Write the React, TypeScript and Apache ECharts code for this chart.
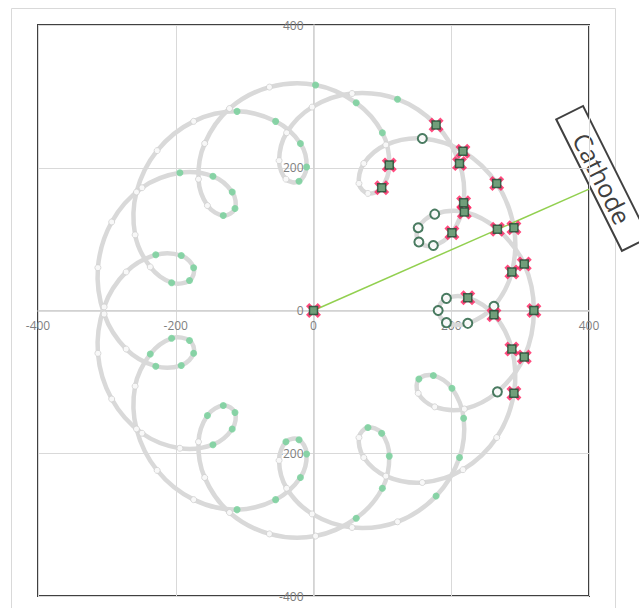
import React, { useEffect, useRef } from "react";
import * as echarts from "echarts";

// Sampled points of the electron path (data units), in drawing order
const curveX = [
  181, 193, 224, 262, 288, 291, 266, 217, 158, 105,
  73, 66, 79, 99, 110, 100, 62, 3, -64, -122,
  -158, -167, -154, -131, -114, -118, -146, -194, -249, -293,
  -313, -304, -272, -229, -192, -174, -180, -206, -237, -259,
  -257, -227, -174, -111, -55, -19, -10, -21, -40, -50,
  -39, -2, 56, 122, 178, 212, 218, 201, 174, 153,
  152, 176, 219, 267, 306, 320, 306, 267, 219, 176,
  152, 153, 174, 201, 218, 212, 178, 122, 56, -2,
  -39, -50, -40, -21, -10, -19, -55, -111, -174, -227,
  -257, -259, -237, -206, -180, -174, -192, -229, -272, -304,
  -313, -293, -249, -194, -146, -118, -114, -131, -154, -167,
  -158, -122, -64, 3, 62, 100, 110, 99, 79, 66,
  73, 105, 158, 217, 266, 291, 288, 262, 224, 193,
];
const curveY = [
  0, -17, -18, 6, 54, 116, 178, 223, 241, 232,
  206, 178, 164, 172, 204, 249, 291, 316, 313, 283,
  234, 184, 147, 133, 143, 166, 188, 193, 172, 124,
  60, -5, -54, -78, -77, -60, -42, -39, -61, -106,
  -166, -224, -265, -279, -265, -234, -201, -181, -184, -210,
  -249, -285, -304, -296, -260, -206, -151, -109, -91, -96,
  -116, -135, -138, -114, -65, 0, 65, 114, 138, 135,
  116, 96, 91, 109, 151, 206, 260, 296, 304, 285,
  249, 210, 184, 181, 201, 234, 265, 279, 265, 224,
  166, 106, 61, 39, 42, 60, 77, 78, 54, 5,
  -60, -124, -172, -193, -188, -166, -143, -133, -147, -184,
  -234, -283, -313, -316, -291, -249, -204, -172, -164, -178,
  -206, -232, -241, -223, -178, -116, -54, -6, 18, 17,
];
// Marker kind for each point: W white dot, G green dot, D dark ring, X red cross with square
const markerKind = [
  "D", "D", "D", "D", "X", "X", "X", "X", "D", "W",
  "W", "W", "W", "X", "X", "G", "G", "G", "W", "W",
  "W", "W", "W", "G", "G", "G", "G", "G", "W", "W",
  "W", "W", "W", "G", "G", "G", "G", "G", "G", "W",
  "W", "W", "W", "G", "G", "G", "G", "G", "G", "W",
  "W", "W", "W", "W", "G", "G", "G", "G", "G", "G",
  "W", "W", "W", "D", "X", "X", "X", "X", "X", "D",
  "D", "D", "D", "X", "X", "X", "X", "G", "W", "W",
  "W", "W", "W", "G", "G", "G", "G", "G", "W", "W",
  "W", "W", "W", "G", "G", "G", "G", "G", "W", "W",
  "W", "W", "W", "W", "G", "G", "G", "G", "G", "W",
  "W", "W", "W", "W", "G", "G", "G", "G", "G", "W",
  "W", "W", "W", "W", "W", "X", "X", "X", "X", "D",
];
const cathodeX = [0, 400];
const cathodeY = [0, 170];
const originX = [0];
const originY = [0];
const cathodeLabel = "Cathode";

function pointsOf(kind: string): number[][] {
  const out: number[][] = [];
  markerKind.forEach((k, i) => {
    if (k === kind) out.push([curveX[i], curveY[i]]);
  });
  return out;
}

export default function App() {
  const ref = useRef<HTMLDivElement>(null);
  useEffect(() => {
    const chart = echarts.init(ref.current!, null, { renderer: "svg" });
    const pts = curveX.map((x, i) => [x, curveY[i]]);
    const N = pts.length;
    const crossPts = pointsOf("X");
    originX.forEach((x, i) => crossPts.push([x, originY[i]]));
    const xArm = "path://M2.6,0L6,3.4L9.4,0L12,2.6L8.6,6L12,9.4L9.4,12L6,8.6L2.6,12L0,9.4L3.4,6L0,2.6Z";

    const GRID_LEFT = 38;
    const GRID_TOP = 25;
    const GRID_W = 551;
    const GRID_H = 571;

    const axisBase = {
      type: "value",
      min: -400,
      max: 400,
      interval: 200,
      axisLine: { show: true, onZero: false, lineStyle: { color: "#d0d0d0", width: 1.5 } },
      axisTick: { show: false },
      splitLine: { show: true, lineStyle: { color: "#d9d9d9", width: 1 } },
    };

    chart.setOption({
      animation: false,
      backgroundColor: "#ffffff",
      grid: {
        left: GRID_LEFT,
        top: GRID_TOP,
        width: GRID_W,
        height: GRID_H,
        show: true,
        borderColor: "#404040",
        borderWidth: 2,
        backgroundColor: "transparent",
      },
      xAxis: {
        ...axisBase,
        position: "bottom",
        offset: -GRID_H / 2,
        axisLabel: { color: "#7f7f7f", fontSize: 12, fontFamily: "Open Sans", margin: 9 },
      },
      yAxis: {
        ...axisBase,
        position: "left",
        offset: -GRID_W / 2,
        axisLabel: { color: "#7f7f7f", fontSize: 12, fontFamily: "Open Sans", margin: 10 },
      },
      series: [
        {
          type: "custom",
          data: pts,
          encode: { x: 0, y: 1 },
          z: 2,
          silent: true,
          renderItem: (params: any, api: any) => {
            const i = params.dataIndex;
            const p0 = api.coord(pts[(i - 1 + N) % N]);
            const p1 = api.coord(pts[i]);
            const p2 = api.coord(pts[(i + 1) % N]);
            const p3 = api.coord(pts[(i + 2) % N]);
            return {
              type: "bezierCurve",
              shape: {
                x1: p1[0],
                y1: p1[1],
                x2: p2[0],
                y2: p2[1],
                cpx1: p1[0] + (p2[0] - p0[0]) / 6,
                cpy1: p1[1] + (p2[1] - p0[1]) / 6,
                cpx2: p2[0] - (p3[0] - p1[0]) / 6,
                cpy2: p2[1] - (p3[1] - p1[1]) / 6,
              },
              style: { stroke: "#d9d9d9", lineWidth: 4.5, fill: null, lineCap: "round" },
            };
          },
        },
        {
          type: "line",
          data: cathodeX.map((x, i) => [x, cathodeY[i]]),
          showSymbol: false,
          symbol: "none",
          lineStyle: { color: "#92d050", width: 1.5 },
          z: 3,
          silent: true,
        },
        {
          type: "scatter",
          data: pointsOf("W"),
          symbol: "circle",
          symbolSize: 6,
          itemStyle: { color: "#ffffff", borderColor: "#d0d0d0", borderWidth: 1 },
          z: 4,
          silent: true,
        },
        {
          type: "scatter",
          data: pointsOf("G"),
          symbol: "circle",
          symbolSize: 7,
          itemStyle: { color: "#72cf97" },
          z: 4,
          silent: true,
        },
        {
          type: "scatter",
          data: pointsOf("D"),
          symbol: "circle",
          symbolSize: 9,
          itemStyle: { color: "#ffffff", borderColor: "#1d5a3a", borderWidth: 2 },
          z: 5,
          silent: true,
        },
        {
          type: "scatter",
          data: crossPts,
          symbol: xArm,
          symbolSize: 15,
          itemStyle: { color: "#ff1f5f" },
          z: 5,
          silent: true,
        },
        {
          type: "scatter",
          data: crossPts,
          symbol: "rect",
          symbolSize: 8,
          itemStyle: { color: "#4fb47a", borderColor: "#1d4f35", borderWidth: 1.5 },
          z: 6,
          silent: true,
        },
      ],
      graphic: [
        {
          type: "rect",
          shape: { x: 11.5, y: 8.5, width: 604, height: 620 },
          style: { fill: "none", stroke: "#d9d9d9", lineWidth: 1 },
          silent: true,
          z: -10,
        },
        {
          type: "group",
          x: 602.5,
          y: 178.4,
          rotation: -1.107,
          z: 100,
          children: [
            {
              type: "rect",
              shape: { x: -73.5, y: -15, width: 147, height: 30 },
              style: { fill: "#ffffff", stroke: "#404040", lineWidth: 2 },
            },
            {
              type: "text",
              style: {
                text: cathodeLabel,
                x: 0,
                y: 0,
                align: "center",
                verticalAlign: "middle",
                fontSize: 25,
                fontFamily: "Open Sans",
                fill: "#404040",
              },
            },
          ],
        },
      ],
    });
    return () => chart.dispose();
  }, []);
  return (
    <div
      ref={ref}
      style={{ position: "absolute", left: 0, top: 0, width: 639, height: 608, background: "#fff" }}
    />
  );
}
